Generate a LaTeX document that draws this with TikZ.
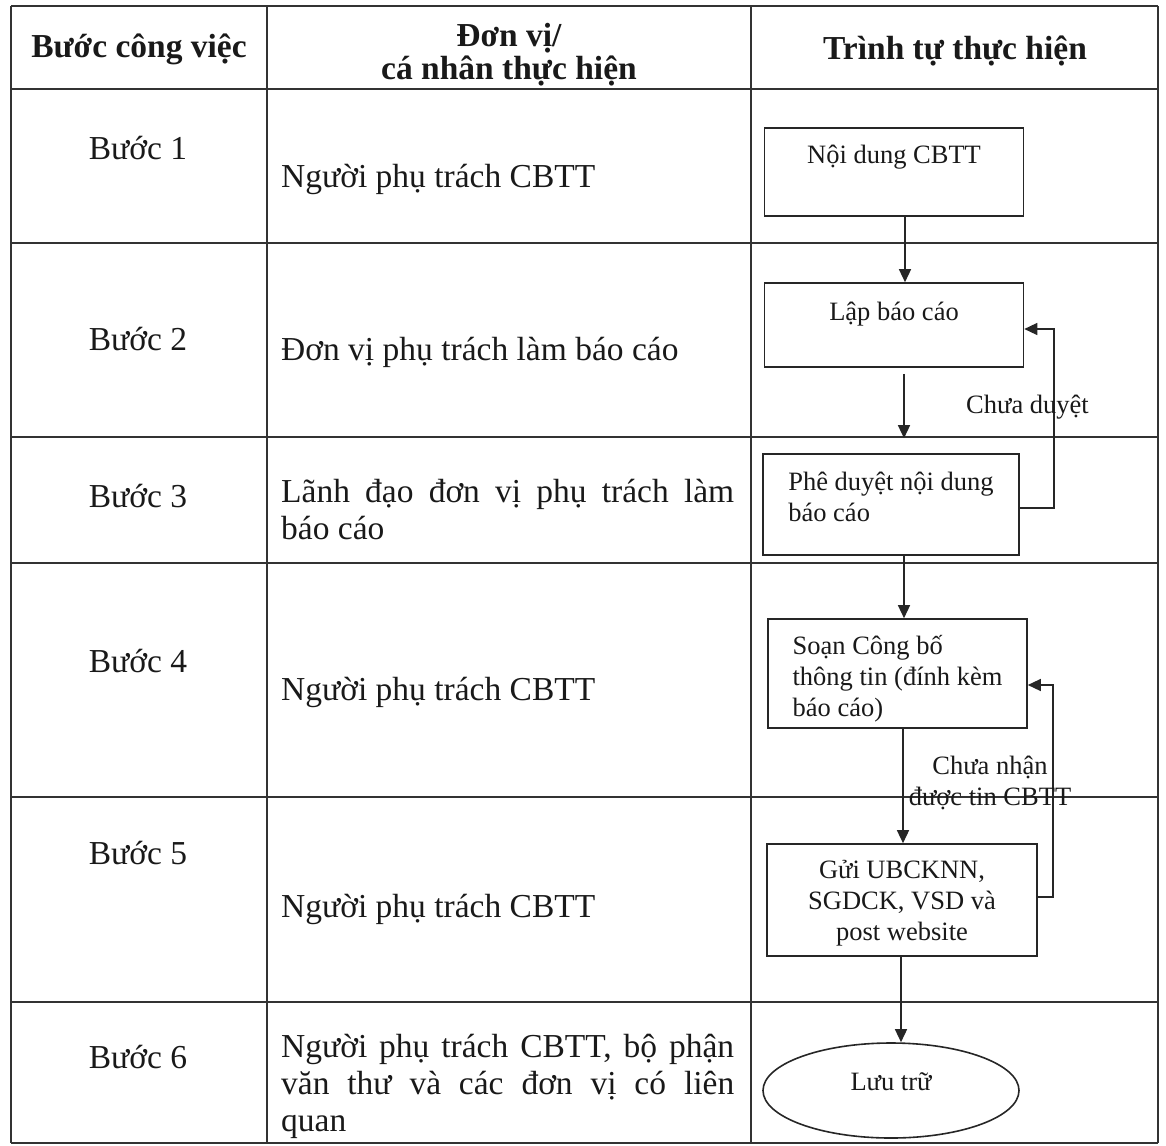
\documentclass[tikz,border=0pt]{standalone}
\usepackage{fontspec}
\setmainfont{Liberation Serif}
\usetikzlibrary{arrows.meta, shapes.geometric, positioning}
\newcommand{\bodyfont}{\fontsize{33.5}{37}\selectfont}
\newcommand{\chartfont}{\fontsize{26.5}{31}\selectfont}
\newcommand{\headfont}{\fontsize{33.5}{33}\selectfont\bfseries}
\tikzset{
  tbl/.style={line width=1.5pt, draw=black!80},
  stepbox/.style={draw=black!85, line width=1.6pt, rectangle, inner sep=0pt, font=\chartfont},
  arr/.style={-{Triangle[length=13pt,width=12pt]}, line width=1.4pt, draw=black!85},
  steplbl/.style={anchor=base, font=\bodyfont, inner sep=0pt},
  unitlbl/.style={anchor=base west, font=\bodyfont, inner sep=0pt},
}
\begin{document}
\begin{tikzpicture}[x=1pt, y=-1pt, text=black!90]
\useasboundingbox (0,0) rectangle (1166,1145);

% table grid
\foreach \y in {6,89,243,437,563,797,1002,1143}
  \draw[tbl] (11,\y) -- (1158,\y);
\foreach \x in {11,267,751,1158}
  \draw[tbl] (\x,6) -- (\x,1143);

% header
\node[anchor=base, font=\headfont] (hstep) at (139,58) {Bước công việc};
\node[anchor=base, font=\headfont, align=center] (hunit) at (509,80) {Đơn vị/\\cá nhân thực hiện};
\node[anchor=base, font=\headfont] (hflow) at (955,60) {Trình tự thực hiện};

% steps
\node[steplbl] (s1) at (138,159) {Bước 1};
\node[steplbl] (s2) at (138,350) {Bước 2};
\node[steplbl] (s3) at (138,507) {Bước 3};
\node[steplbl] (s4) at (138,672) {Bước 4};
\node[steplbl] (s5) at (138,864) {Bước 5};
\node[steplbl] (s6) at (138,1068) {Bước 6};

% units
\node[unitlbl] (u1) at (281,187) {Người phụ trách CBTT};
\node[unitlbl] (u2) at (281,360) {Đơn vị phụ trách làm báo cáo};
\node[unitlbl, text width=453pt, align=justify] (u3) at (281,502)
  {Lãnh đạo đơn vị phụ trách làm\linebreak báo cáo};
\node[unitlbl] (u4) at (281,700) {Người phụ trách CBTT};
\node[unitlbl] (u5) at (281,917) {Người phụ trách CBTT};
\node[unitlbl, text width=453pt, align=justify] (u6) at (281,1057)
  {Người phụ trách CBTT, bộ phận\linebreak văn thư và các đơn vị có liên\linebreak quan};

% flow chart
\node[stepbox, minimum width=259pt, text height=35pt, text depth=53pt] (nd) at (894,172) {Nội dung CBTT};
\node[stepbox, minimum width=259pt, text height=37pt, text depth=47pt] (lap) at (894,325) {Lập báo cáo};
\node[stepbox, minimum width=256pt, text height=67pt, text depth=34pt, align=left] (pd) at (891,504.5)
  {Phê duyệt nội dung\\báo cáo};
\node[stepbox, minimum width=259pt, text height=97pt, text depth=12pt, align=left] (soan) at (897.5,673.5)
  {Soạn Công bố\\thông tin (đính kèm\\báo cáo)};
\node[stepbox, minimum width=270pt, text height=96pt, text depth=16pt, align=center] (gui) at (902,900)
  {Gửi UBCKNN,\\SGDCK, VSD và\\post website};
\node[draw=black!85, line width=1.6pt, ellipse, inner sep=0pt, minimum width=256pt, minimum height=95pt,
  text height=10pt, text depth=10pt, font=\chartfont] (luu) at (891,1090.5) {Lưu trữ};

\draw[arr] ([xshift=11pt]nd.south) -- ([xshift=11pt]lap.north);
\draw[arr, shorten <=6pt, shorten >=15pt] ([xshift=10pt]lap.south) -- ([xshift=10pt]lap.south |- pd.north);
\draw[arr] ([xshift=13pt]pd.south) -- ([xshift=13pt]pd.south |- soan.north);
\draw[arr] ([xshift=5.5pt]soan.south) -- ([xshift=5.5pt]soan.south |- gui.north);
\draw[arr] ([xshift=-1pt]gui.south) -- ([xshift=-1pt]gui.south |- luu.north);

% loops back
\draw[arr] ([yshift=-3.5pt]pd.east) -- ++(34,0) |- ([yshift=-4pt]lap.east);
\draw[arr] ([yshift=3pt]gui.east) -- ++(15,0) |- ([yshift=-11.5pt]soan.east);
\node[anchor=base, font=\chartfont, inner sep=0pt] (nodup) at (1027.5,413) {Chưa duyệt};
\node[anchor=base, font=\chartfont, inner sep=0pt, align=center] (nonhan) at (990,805)
  {Chưa nhận\\được tin CBTT};
\end{tikzpicture}
\end{document}
